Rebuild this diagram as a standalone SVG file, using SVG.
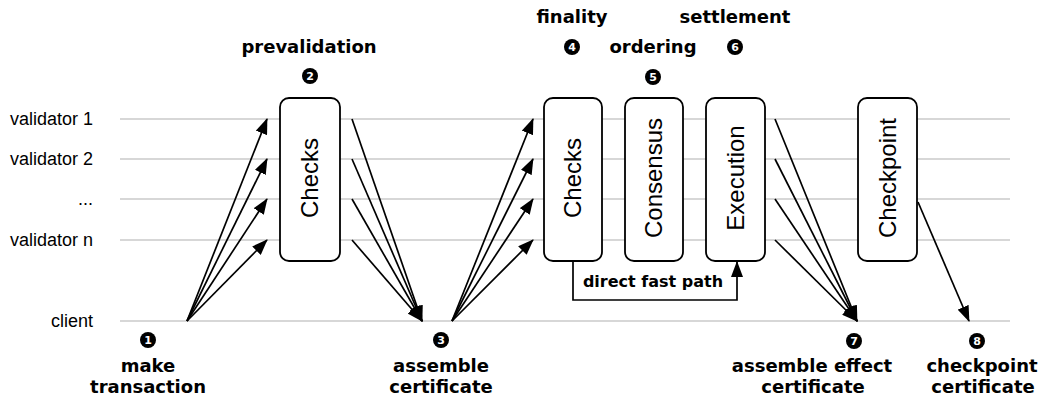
<svg xmlns="http://www.w3.org/2000/svg" width="1041" height="398" viewBox="0 0 1041 398">
<defs>
<style>
.lane{stroke:#b0b0b0;stroke-width:1.2;fill:none}
.lbl{font-family:"Liberation Sans",Arial,sans-serif;font-size:18px;fill:#000;text-anchor:end}
.box{fill:#fff;stroke:#000;stroke-width:1.8}
.bt{font-family:"Liberation Sans",Arial,sans-serif;font-size:24px;fill:#000;text-anchor:middle}
.step{font-family:"DejaVu Sans",Verdana,sans-serif;font-weight:bold;font-size:18px;fill:#000;text-anchor:middle}
.num{font-family:"DejaVu Sans",Verdana,sans-serif;font-weight:bold;font-size:11px;fill:#fff;text-anchor:middle}
.arr{stroke:#000;stroke-width:1.7;fill:none;marker-end:url(#ah)}
</style>
<marker id="ah" markerUnits="userSpaceOnUse" markerWidth="16" markerHeight="12" refX="15" refY="6" orient="auto" viewBox="0 0 16 12">
<path d="M0,0 L16,6 L0,12 Z" fill="#000"/>
</marker>
</defs>
<g id="lanes">
<line class="lane" x1="120" y1="119" x2="1010" y2="119"/>
<line class="lane" x1="120" y1="159" x2="1010" y2="159"/>
<line class="lane" x1="120" y1="199" x2="1010" y2="199"/>
<line class="lane" x1="120" y1="240" x2="1010" y2="240"/>
<line class="lane" x1="120" y1="321" x2="1010" y2="321"/>
<text class="lbl" x="93" y="125">validator 1</text>
<text class="lbl" x="93" y="165">validator 2</text>
<text class="lbl" x="93" y="205">...</text>
<text class="lbl" x="93" y="246">validator n</text>
<text class="lbl" x="93" y="327">client</text>
</g>
<g id="node-checks1">
<rect class="box" x="280" y="98" width="60" height="163" rx="9"/>
<text class="bt" transform="translate(318,178) rotate(-90)">Checks</text>
</g>
<g id="node-checks2">
<rect class="box" x="544" y="98" width="58" height="163" rx="9"/>
<text class="bt" transform="translate(581,178) rotate(-90)">Checks</text>
</g>
<g id="node-consensus">
<rect class="box" x="625" y="98" width="58" height="163" rx="9"/>
<text class="bt" transform="translate(662,178) rotate(-90)">Consensus</text>
</g>
<g id="node-execution">
<rect class="box" x="706" y="98" width="59" height="163" rx="9"/>
<text class="bt" transform="translate(744,178) rotate(-90)">Execution</text>
</g>
<g id="node-checkpoint">
<rect class="box" x="858" y="98" width="59" height="163" rx="9"/>
<text class="bt" transform="translate(896,178) rotate(-90)">Checkpoint</text>
</g>
<g id="connectors">
<line class="arr" x1="187" y1="321" x2="267" y2="119"/>
<line class="arr" x1="187" y1="321" x2="267" y2="159"/>
<line class="arr" x1="187" y1="321" x2="267" y2="199"/>
<line class="arr" x1="187" y1="321" x2="267" y2="240"/>
<line class="arr" x1="352" y1="119" x2="422" y2="321"/>
<line class="arr" x1="352" y1="159" x2="422" y2="321"/>
<line class="arr" x1="352" y1="199" x2="422" y2="321"/>
<line class="arr" x1="352" y1="240" x2="422" y2="321"/>
<line class="arr" x1="452" y1="321" x2="533" y2="119"/>
<line class="arr" x1="452" y1="321" x2="533" y2="159"/>
<line class="arr" x1="452" y1="321" x2="533" y2="199"/>
<line class="arr" x1="452" y1="321" x2="533" y2="240"/>
<line class="arr" x1="775" y1="119" x2="857" y2="321"/>
<line class="arr" x1="775" y1="159" x2="857" y2="321"/>
<line class="arr" x1="775" y1="199" x2="857" y2="321"/>
<line class="arr" x1="775" y1="240" x2="857" y2="321"/>
<line class="arr" x1="918" y1="202" x2="969" y2="321"/>
<path class="arr" d="M573,261 V300 H737 V262"/>
<text class="step" x="653" y="287" style="font-size:16px">direct fast path</text>
</g>
<g id="step1">
<circle cx="148" cy="340" r="8" fill="#000"/>
<text class="num" x="148" y="344">1</text>
<text class="step" x="148" y="372">make</text>
<text class="step" x="148" y="393">transaction</text>
</g>
<g id="step2">
<text class="step" x="309" y="53">prevalidation</text>
<circle cx="310" cy="76" r="8" fill="#000"/>
<text class="num" x="310" y="80">2</text>
</g>
<g id="step3">
<circle cx="441" cy="340" r="8" fill="#000"/>
<text class="num" x="441" y="344">3</text>
<text class="step" x="441" y="372">assemble</text>
<text class="step" x="441" y="393">certificate</text>
</g>
<g id="step4">
<text class="step" x="572" y="23">finality</text>
<circle cx="572" cy="47" r="8" fill="#000"/>
<text class="num" x="572" y="51">4</text>
</g>
<g id="step5">
<text class="step" x="653" y="53">ordering</text>
<circle cx="653" cy="77" r="8" fill="#000"/>
<text class="num" x="653" y="81">5</text>
</g>
<g id="step6">
<text class="step" x="735" y="23">settlement</text>
<circle cx="735" cy="47" r="8" fill="#000"/>
<text class="num" x="735" y="51">6</text>
</g>
<g id="step7">
<circle cx="854" cy="341" r="8" fill="#000"/>
<text class="num" x="854" y="345">7</text>
<text class="step" x="812" y="372">assemble effect</text>
<text class="step" x="813" y="393">certificate</text>
</g>
<g id="step8">
<circle cx="977" cy="341" r="8" fill="#000"/>
<text class="num" x="977" y="345">8</text>
<text class="step" x="982" y="372">checkpoint</text>
<text class="step" x="983" y="393">certificate</text>
</g>
</svg>
